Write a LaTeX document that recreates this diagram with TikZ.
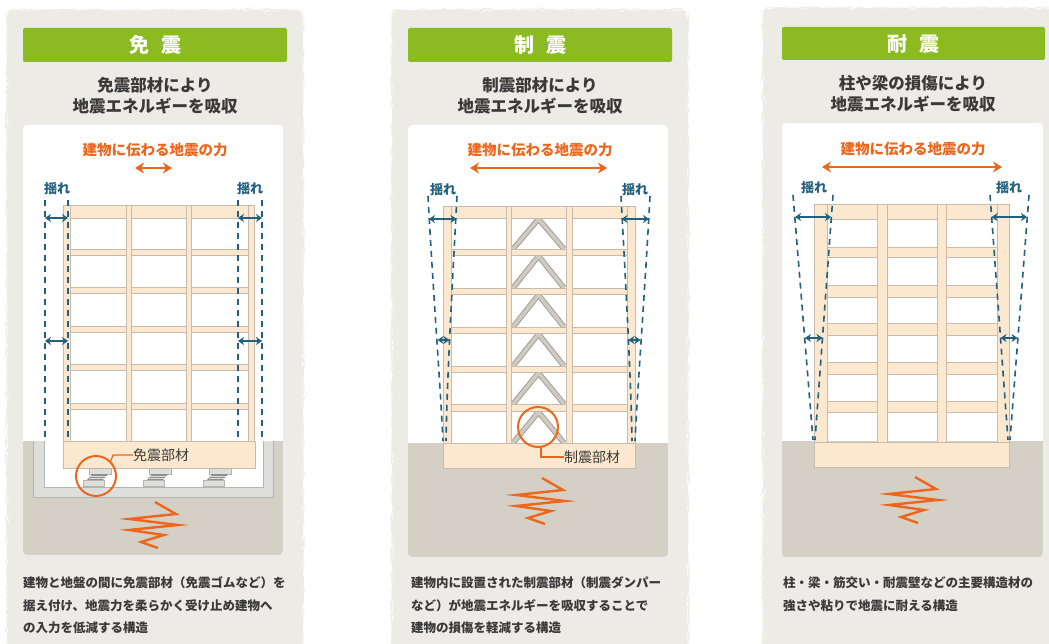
\documentclass[tikz,border=0pt]{standalone}
\usepackage{fontspec}
\newfontfamily\jp{Noto Sans CJK JP}
\usetikzlibrary{arrows.meta,decorations.pathmorphing}

\definecolor{panelgray}{HTML}{EDEBE6}
\definecolor{hdrgreen}{HTML}{8CBB21}
\definecolor{txtdark}{HTML}{3A3A3A}
\definecolor{quakeorange}{HTML}{EE661C}
\definecolor{shakeblue}{HTML}{22607F}
\definecolor{groundbeige}{HTML}{D5D0C5}
\definecolor{framefill}{HTML}{FCE7CF}
\definecolor{framedraw}{HTML}{C9BBAC}
\definecolor{pitgray}{HTML}{DEDEDC}
\definecolor{pitedge}{HTML}{B4B4B0}
\definecolor{bracefill}{HTML}{CFCBC2}
\definecolor{braceedge}{HTML}{A5A198}
\definecolor{rubber}{HTML}{8E8E8A}

\tikzset{
  panelbg/.style={fill=panelgray, rounded corners=8pt,
    decorate, decoration={random steps, segment length=3pt, amplitude=0.8pt}},
  hdr/.style={fill=hdrgreen, rounded corners=2pt},
  whitebox/.style={fill=white, rounded corners=4pt},
  member/.style={fill=framefill, draw=framedraw, line width=0.8pt},
  shakeline/.style={draw=shakeblue, line width=1.6pt, dash pattern=on 6pt off 5pt},
  shakearrow/.style={draw=shakeblue, line width=1.6pt, {Stealth[length=6pt,width=8pt]}-{Stealth[length=6pt,width=8pt]}},
  forcearrow/.style={draw=quakeorange, line width=2.6pt, {Stealth[length=9pt,width=11pt]}-{Stealth[length=9pt,width=11pt]}},
  quakeline/.style={draw=quakeorange, line width=2.4pt, line join=miter, miter limit=20},
  marker/.style={draw=quakeorange, line width=2pt},
  hdrtext/.style={text=white, font=\jp\bfseries\fontsize{20}{22}\selectfont},
  subtext/.style={text=txtdark, font=\jp\bfseries\fontsize{16.5}{18}\selectfont},
  forcetext/.style={text=quakeorange, font=\jp\bfseries\fontsize{14.5}{16}\selectfont},
  shaketext/.style={text=shakeblue, font=\jp\bfseries\fontsize{13}{14}\selectfont},
  parttext/.style={text=txtdark, font=\jp\fontsize{14}{16}\selectfont},
  desctext/.style={text=txtdark, anchor=west, inner sep=0pt, font=\jp\bfseries\fontsize{12.5}{14}\selectfont},
}

% zigzag ground motion symbol
\newcommand\quakemark[2]{%
  \draw[quakeline, shift={(#1,#2)}] (2,-23) -- (23,-11) -- (-24,-6) -- (25,0)
     -- (-24,5) -- (11,10) -- (-12,17) -- (5,23);
}
% laminated rubber bearing centred at x=#1
\newcommand\bearing[1]{%
  \begin{scope}[shift={(#1,0)}]
    \filldraw[fill=pitgray, draw=pitedge, line width=0.6pt] (-11,468) rectangle (11,474);
    \fill[rubber] (-8,474) -- (8,474) -- (3,480) -- (-13,480) -- cycle;
    \draw[pitgray, line width=0.7pt] (-9.7,476) -- (6.3,476) (-11.3,478) -- (4.7,478);
    \filldraw[fill=pitgray, draw=pitedge, line width=0.6pt] (-17,480) rectangle (4,486);
  \end{scope}
}

\begin{document}
\begin{tikzpicture}[x=1pt, y=-1pt]
\pgfmathsetseed{7}
\useasboundingbox (0,0) rectangle (1049,644);

% ---------- panel backgrounds ----------
\fill[panelbg] (7,10) rectangle (303,660);
\fill[panelbg] (392,10) rectangle (688,660);
\fill[panelbg] (763,8) rectangle (1065,660);

% ---------- headers ----------
\fill[hdr] (23,28) rectangle (287,62);
\fill[hdr] (408,28) rectangle (672,62);
\fill[hdr] (782,27) rectangle (1045,60);
\node[hdrtext] (h1) at (155,45) {免\hspace{12pt}震};
\node[hdrtext] (h2) at (540,45) {制\hspace{12pt}震};
\node[hdrtext] (h3) at (913,44) {耐\hspace{12pt}震};

\node[subtext] (s1a) at (155,85) {免震部材により};
\node[subtext] (s1b) at (155,106) {地震エネルギーを吸収};
\node[subtext] (s2a) at (540,85) {制震部材により};
\node[subtext] (s2b) at (540,106) {地震エネルギーを吸収};
\node[subtext] (s3a) at (913,83) {柱や梁の損傷により};
\node[subtext] (s3b) at (913,104) {地震エネルギーを吸収};

% ---------- white boxes with ground ----------
\fill[whitebox] (23,125) rectangle (283,555);
\fill[whitebox] (408,125) rectangle (668,557);
\fill[whitebox] (782,123) rectangle (1043,557);
\begin{scope}
  \clip[rounded corners=4pt] (23,125) rectangle (283,555);
  \fill[groundbeige] (23,441) rectangle (283,555);
\end{scope}
\begin{scope}
  \clip[rounded corners=4pt] (408,125) rectangle (668,557);
  \fill[groundbeige] (408,443) rectangle (668,557);
\end{scope}
\begin{scope}
  \clip[rounded corners=4pt] (782,123) rectangle (1043,557);
  \fill[groundbeige] (782,441) rectangle (1043,557);
\end{scope}

% ---------- force labels ----------
\node[forcetext] (f1) at (155,150) {建物に伝わる地震の力};
\node[forcetext] (f2) at (540,150) {建物に伝わる地震の力};
\node[forcetext] (f3) at (913,149) {建物に伝わる地震の力};
\coordinate (f1l) at (135,168); \coordinate (f1r) at (172,168);
\coordinate (f2l) at (470,168); \coordinate (f2r) at (607,168);
\coordinate (f3l) at (822,167); \coordinate (f3r) at (1002,167);
\draw[forcearrow] (f1l) -- (f1r);
\draw[forcearrow] (f2l) -- (f2r);
\draw[forcearrow] (f3l) -- (f3r);

% ================= panel 1: base isolation =================
% foundation pit
\filldraw[fill=pitgray, draw=pitedge, line width=0.8pt] (33,441) -- (33,497) -- (273,497) -- (273,441);
\fill[white] (44,441) rectangle (263,487);
\draw[pitedge, line width=0.8pt] (44,441) -- (44,487) -- (263,487) -- (263,441);
% frame
\foreach \ya/\yb in {205/218, 249/255, 287/293, 326/332, 364/370, 403/409}
  \filldraw[member] (63,\ya) rectangle (254,\yb);
\foreach \xa/\xb in {63/70, 126/131, 186/191, 248/254}
  \filldraw[member] (\xa,205) rectangle (\xb,441);
\filldraw[member] (63,441) rectangle (255,468);
% isolators
\bearing{100}
\bearing{160}
\bearing{220}
% sway envelope
\draw[shakeline] (45,200) -- (45,440);
\draw[shakeline] (68,200) -- (68,440);
\draw[shakeline] (238,200) -- (238,440);
\draw[shakeline] (262,200) -- (262,440);
\coordinate (a1) at (45,218); \coordinate (b1) at (68,218);
\coordinate (a2) at (45,341); \coordinate (b2) at (68,341);
\coordinate (a3) at (238,218); \coordinate (b3) at (262,218);
\coordinate (a4) at (238,341); \coordinate (b4) at (262,341);
\draw[shakearrow] (a1) -- (b1);
\draw[shakearrow] (a2) -- (b2);
\draw[shakearrow] (a3) -- (b3);
\draw[shakearrow] (a4) -- (b4);
\node[shaketext] (y1l) at (57,189) {揺れ};
\node[shaketext] (y1r) at (250,189) {揺れ};
% marker
\draw[marker] (96,476) circle (20);
\node[parttext, anchor=west, inner sep=0pt] (p1) at (133,455) {免震部材};
\draw[quakeorange, line width=1.2pt] (110.5,462) -- (113,455) -- (p1.west);
\quakemark{153}{525}

% ================= panel 2: vibration control =================
\foreach \yt/\yb in {218/249, 255/288, 294/327, 333/366, 372/404, 411/443} {
  \draw[braceedge, line width=5.5pt, line join=miter] (513,\yb) -- (538.5,\yt+1) -- (564,\yb);
  \draw[bracefill, line width=3.5pt, line join=miter] (513,\yb) -- (538.5,\yt+1) -- (564,\yb);
}
\foreach \ya/\yb in {206/218, 249/255, 288/294, 327/333, 366/372, 404/411}
  \filldraw[member] (443,\ya) rectangle (635,\yb);
\foreach \xa/\xb in {443/451, 506/511, 566/572, 627/635}
  \filldraw[member] (\xa,206) rectangle (\xb,443);
\filldraw[member] (443,443) rectangle (635,468);
% sway envelope (bending)
\draw[shakeline] (428,196) .. controls (433,290) and (440,380) .. (443,441);
\draw[shakeline] (457,196) .. controls (452,290) and (447,380) .. (446,441);
\draw[shakeline] (650,196) .. controls (645,290) and (638,380) .. (635,441);
\draw[shakeline] (621,196) .. controls (626,290) and (631,380) .. (632,441);
\coordinate (c1) at (429,219); \coordinate (d1) at (456.5,219);
\coordinate (c2) at (437.5,340); \coordinate (d2) at (449.5,340);
\coordinate (c3) at (621.5,219); \coordinate (d3) at (649,219);
\coordinate (c4) at (628.5,340); \coordinate (d4) at (640.5,340);
\draw[shakearrow] (c1) -- (d1);
\draw[shakearrow] (c2) -- (d2);
\draw[shakearrow] (c3) -- (d3);
\draw[shakearrow] (c4) -- (d4);
\node[shaketext] (y2l) at (443,190) {揺れ};
\node[shaketext] (y2r) at (635,190) {揺れ};
% marker
\draw[marker] (538,427) circle (20);
\node[parttext, anchor=west, inner sep=0pt] (p2) at (564,457) {制震部材};
\draw[quakeorange, line width=1.2pt] (541,447) -- (541,457) -- (p2.west);
\quakemark{540}{501}

% ================= panel 3: earthquake resistance =================
\foreach \ya/\yb in {204/219, 247/257, 285/297, 323/335, 362/374, 401/412}
  \filldraw[member] (814,\ya) rectangle (1009,\yb);
\foreach \xa/\xb in {814/827, 877/887, 937/946, 997/1009}
  \filldraw[member] (\xa,204) rectangle (\xb,442);
\filldraw[member] (814,442) rectangle (1009,467);
% sway envelope (shear)
\draw[shakeline] (793,195) -- (813,440);
\draw[shakeline] (833,195) -- (815,440);
\draw[shakeline] (1029,195) -- (1010,440);
\draw[shakeline] (990,195) -- (1008,440);
\coordinate (e1) at (795,217); \coordinate (g1) at (831,217);
\coordinate (e2) at (805,338); \coordinate (g2) at (822.5,338);
\coordinate (e3) at (991.6,217); \coordinate (g3) at (1027,217);
\coordinate (e4) at (1000.5,338); \coordinate (g4) at (1017.5,338);
\draw[shakearrow] (e1) -- (g1);
\draw[shakearrow] (e2) -- (g2);
\draw[shakearrow] (e3) -- (g3);
\draw[shakearrow] (e4) -- (g4);
\node[shaketext] (y3l) at (814,188) {揺れ};
\node[shaketext] (y3r) at (1009,188) {揺れ};
\quakemark{913}{500}

% ---------- descriptions ----------
\node[desctext] (t1a) at (23,583) {建物と地盤の間に免震部材（免震ゴムなど）を};
\node[desctext] (t1b) at (23,606) {据え付け、地震力を柔らかく受け止め建物へ};
\node[desctext] (t1c) at (23,628) {の入力を低減する構造};
\node[desctext] (t2a) at (411,583) {建物内に設置された制震部材（制震ダンパー};
\node[desctext] (t2b) at (411,606) {など）が地震エネルギーを吸収することで};
\node[desctext] (t2c) at (411,628) {建物の損傷を軽減する構造};
\node[desctext] (t3a) at (783,583) {柱・梁・筋交い・耐震壁などの主要構造材の};
\node[desctext] (t3b) at (783,606) {強さや粘りで地震に耐える構造};
\end{tikzpicture}
\end{document}
